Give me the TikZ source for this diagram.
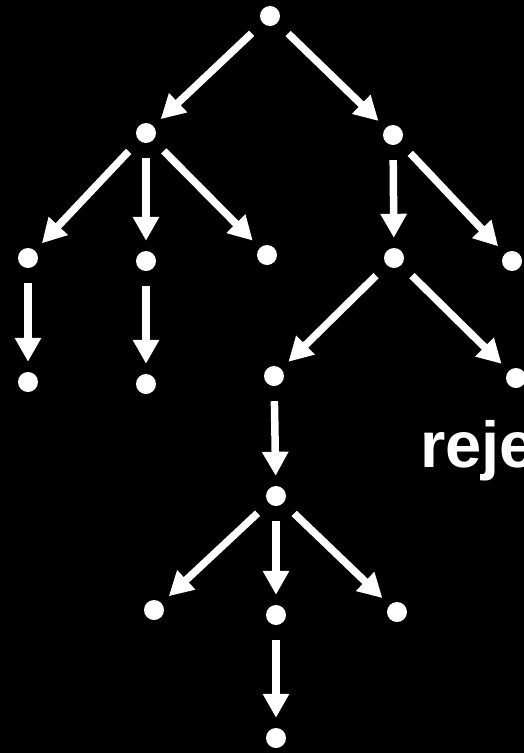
\documentclass[tikz,border=0pt]{standalone}
\usepackage{fontspec}
\setmainfont{Liberation Sans}
\usetikzlibrary{arrows.meta}
\begin{document}
\begin{tikzpicture}[x=1pt,y=-1pt,
  dot/.style={circle,fill=white,draw=none,minimum size=20pt,inner sep=0pt},
  edge/.style={draw=white,line width=7.5pt,-{Triangle[width=25pt,length=24pt]},shorten <=15pt,shorten >=10pt}]
\fill[black] (0,0) rectangle (524,753);
\useasboundingbox (0,0) rectangle (524,753);
\node[dot] (r) at (270,16) {};
\node[dot] (a) at (146,133) {};
\node[dot] (b) at (393,135) {};
\node[dot] (a1) at (28,258) {};
\node[dot] (a2) at (146,261) {};
\node[dot] (a3) at (267,255) {};
\node[dot] (a1c) at (28,382) {};
\node[dot] (a2c) at (146,384) {};
\node[dot] (b1) at (394,258) {};
\node[dot] (b2) at (512,261) {};
\node[dot] (b1a) at (274,376) {};
\node[dot] (b1b) at (516,378) {};
\node[dot] (c) at (276,496) {};
\node[dot] (c1) at (154,610) {};
\node[dot] (c2) at (276,615) {};
\node[dot] (c3) at (397,612) {};
\node[dot] (c2c) at (276,738) {};
\node[anchor=base west,inner sep=0pt,text=white,font=\bfseries\fontsize{65}{70}\selectfont] (t) at (420,467) {reje};
\draw[edge] (r) -- (a);
\draw[edge] (r) -- (b);
\draw[edge] (a) -- (a1);
\draw[edge] (a) -- (a2);
\draw[edge] (a) -- (a3);
\draw[edge] (a1) -- (a1c);
\draw[edge] (a2) -- (a2c);
\draw[edge] (b) -- (b1);
\draw[edge] (b) -- (b2);
\draw[edge] (b1) -- (b1a);
\draw[edge] (b1) -- (b1b);
\draw[edge] (b1a) -- (c);
\draw[edge] (c) -- (c1);
\draw[edge] (c) -- (c2);
\draw[edge] (c) -- (c3);
\draw[edge] (c2) -- (c2c);
\end{tikzpicture}
\end{document}
